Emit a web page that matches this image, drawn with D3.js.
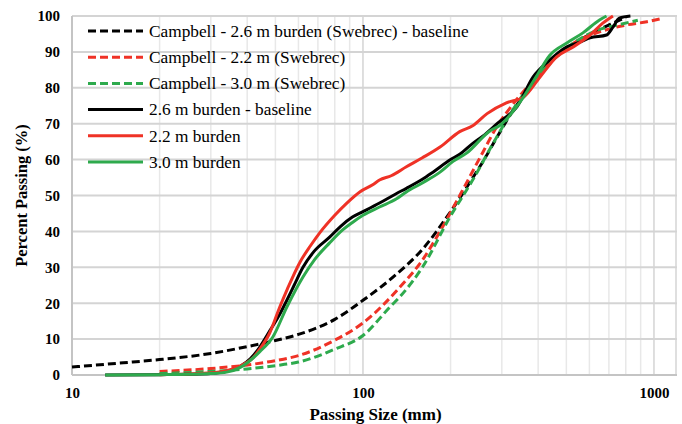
<!DOCTYPE html>
<html>
<head>
<meta charset="utf-8">
<script src="https://cdn.jsdelivr.net/npm/d3@7"></script>
<style>
  body { margin: 0; background: #fff; }
</style>
</head>
<body>
<div id="chart"></div>
<script>
// passing size (mm) / percent passing
var campbell26 = [[10,2.2],[15,3.4],[20,4.3],[30,6.0],[40,7.9],[50,9.6],[60,11.3],[80,15.5],[100,20.8],[130,28],[160,35],[200,45.5],[220,50.5],[240,55.3],[260,59.8],[290,66.5],[330,74],[370,79.5],[410,84],[460,88.5],[510,91.3],[600,94.8],[700,97.5],[800,99.6]];
var campbell22 = [[20,1.0],[30,1.8],[40,2.8],[50,4.0],[60,5.4],[80,9.7],[100,14.5],[134,24.5],[160,32],[184,40],[220,51.5],[258,62],[290,69.5],[311,73],[365,80],[406,84],[460,88.5],[530,92.5],[636,95.3],[804,97.5],[946,98.4],[1050,99.2]];
var campbell30 = [[20,0.4],[30,1.0],[40,1.7],[50,2.6],[60,3.6],[80,7.2],[100,11],[124,19],[134,21.8],[160,30],[199,44],[239,54.5],[280,64.5],[328,74],[400,83.5],[500,91],[636,96],[750,97.5],[880,98.8]];
var burden26 = [[13,0],[20,0.1],[25,0.2],[30,0.4],[34,1],[38,2.5],[41,4.5],[44.2,7.8],[48,12.5],[51.8,17],[54.8,20.9],[58,25],[62.2,30],[68,34.5],[76.8,38.4],[84,41.5],[92,44],[100,45.5],[114,47.9],[130,50.5],[141,52],[160,54.5],[174,56.5],[200,60],[215,61.5],[239,64.6],[258,66.5],[291,70.2],[338,74.7],[384,83],[438,87.7],[502,91.4],[560,92.8],[603,93.9],[687,94.7],[723,96.9],[760,99.4],[830,100]];
var burden22 = [[20,0.1],[25,0.3],[30,0.6],[34,1.2],[37.8,2.5],[41.9,4.8],[44,7],[47.8,11.7],[51.8,19],[55,24],[60.8,31.5],[66,36],[71,39.6],[80,44.5],[88,47.9],[97.5,51],[108,53],[114,54.3],[125,55.5],[141,58],[160,60.5],[184,63.5],[215,67.8],[239,69.5],[267,72.8],[311,75.8],[356,77.4],[406,83],[463,88.6],[528,91.4],[603,94.7],[667,98],[723,100]];
var burden30 = [[13,0],[20,0.1],[25,0.2],[30,0.4],[34,0.8],[38,2.2],[44.2,6.5],[49,10.6],[54.8,19],[62.2,27.3],[68,32],[76.8,36.8],[84,40],[92,42.5],[100,44.5],[114,46.8],[130,49],[141,51],[160,53.5],[184,56.5],[204,59.5],[227,61.8],[273,68],[295,69.5],[356,77.4],[400,84],[438,89],[502,92.5],[570,95.3],[650,98.9],[687,100]];

var seriesNames = ["Campbell - 2.6 m burden (Swebrec) - baseline", "Campbell - 2.2 m (Swebrec)", "Campbell - 3.0 m (Swebrec)",
                   "2.6 m burden - baseline", "2.2 m burden", "3.0 m burden"];
var seriesData = [campbell26, campbell22, campbell30, burden26, burden22, burden30];
var seriesColors = ["#000000", "#ef3226", "#2eaa4d", "#000000", "#ef3226", "#2eaa4d"];
var seriesDashed = [true, true, true, false, false, false];

var yTicks = [0, 10, 20, 30, 40, 50, 60, 70, 80, 90, 100];
var xTicks = [10, 100, 1000];

var width = 682, height = 424;
var margin = {left: 72, right: 5, top: 16, bottom: 49};
var serif = "'Liberation Serif'";

var svg = d3.select("#chart").append("svg")
    .attr("width", width)
    .attr("height", height);

var x = d3.scaleLog().domain([10, 1200]).range([margin.left, width - margin.right]);
var y = d3.scaleLinear().domain([0, 100]).range([height - margin.bottom, margin.top]);

// minor vertical grid
var minor = [];
[10, 100, 1000].forEach(function(d) {
    for (var k = 1; k < 10; k++) {
        var v = d * k;
        if (v > 10 && v < 1200) minor.push(v);
    }
});
svg.append("g")
    .selectAll("line")
    .data(minor)
    .enter().append("line")
    .attr("x1", function(d) { return x(d); })
    .attr("x2", function(d) { return x(d); })
    .attr("y1", y(0))
    .attr("y2", y(100))
    .attr("stroke", function(d) { return (d == 100 || d == 1000) ? "#d4d4d4" : "#e8e8e8"; })
    .attr("stroke-width", 1.5);

// horizontal grid
svg.append("g")
    .selectAll("line")
    .data(yTicks)
    .enter().append("line")
    .attr("x1", x(10))
    .attr("x2", x(1200))
    .attr("y1", function(d) { return y(d); })
    .attr("y2", function(d) { return y(d); })
    .attr("stroke", "#d4d4d4")
    .attr("stroke-width", 2);

// plot frame left/right/bottom
svg.append("line").attr("x1", x(10)).attr("x2", x(10)).attr("y1", y(0)).attr("y2", y(100))
    .attr("stroke", "#c4c4c4").attr("stroke-width", 2);
svg.append("line").attr("x1", x(1200) - 1).attr("x2", x(1200) - 1).attr("y1", y(0)).attr("y2", y(100))
    .attr("stroke", "#d4d4d4").attr("stroke-width", 1.5);
svg.append("line").attr("x1", x(10)).attr("x2", x(1200)).attr("y1", y(0)).attr("y2", y(0))
    .attr("stroke", "#c4c4c4").attr("stroke-width", 2);

// axes (labels only)
var yAxis = d3.axisLeft(y).tickValues(yTicks).tickSize(0).tickPadding(12);
svg.append("g")
    .attr("transform", "translate(" + margin.left + ",0)")
    .call(yAxis)
    .call(function(g) { g.select(".domain").remove(); })
    .selectAll("text")
    .style("font-family", serif)
    .style("font-size", "15px")
    .style("font-weight", "bold")
    .attr("fill", "#000");

var xAxis = d3.axisBottom(x).tickValues(xTicks).tickFormat(d3.format("d")).tickSize(0).tickPadding(12);
svg.append("g")
    .attr("transform", "translate(0," + y(0) + ")")
    .call(xAxis)
    .call(function(g) { g.select(".domain").remove(); })
    .selectAll("text")
    .style("font-family", serif)
    .style("font-size", "15px")
    .style("font-weight", "bold")
    .attr("fill", "#000");

// series
var line = d3.line()
    .x(function(d) { return x(d[0]); })
    .y(function(d) { return y(d[1]); })
    .curve(d3.curveMonotoneX);

var order = [0, 1, 2, 3, 4, 5];
svg.append("g")
    .selectAll("path")
    .data(order)
    .enter().append("path")
    .attr("d", function(i) { return line(seriesData[i]); })
    .attr("fill", "none")
    .attr("stroke", function(i) { return seriesColors[i]; })
    .attr("stroke-width", 3)
    .attr("stroke-dasharray", function(i) { return seriesDashed[i] ? "8,4" : null; });

// legend
var legend = svg.append("g")
    .selectAll("g")
    .data(seriesNames)
    .enter().append("g")
    .attr("transform", function(d, i) { return "translate(88," + (31 + i * 26.2) + ")"; });

legend.append("line")
    .attr("x1", 0)
    .attr("x2", 55)
    .attr("stroke", function(d, i) { return seriesColors[i]; })
    .attr("stroke-width", 3)
    .attr("stroke-dasharray", function(d, i) { return seriesDashed[i] ? "8,4" : null; });

legend.append("text")
    .attr("x", 61)
    .attr("dy", "0.33em")
    .style("font-family", serif)
    .style("font-size", "17.3px")
    .text(function(d) { return d; });

// axis titles
svg.append("text")
    .attr("x", (x(10) + x(1200)) / 2 + 1)
    .attr("y", 420)
    .attr("text-anchor", "middle")
    .style("font-family", serif)
    .style("font-size", "17px")
    .style("font-weight", "bold")
    .text("Passing Size (mm)");

svg.append("text")
    .attr("transform", "translate(27," + ((y(0) + y(100)) / 2) + ")rotate(-90)")
    .attr("text-anchor", "middle")
    .style("font-family", serif)
    .style("font-size", "16.5px")
    .style("font-weight", "bold")
    .text("Percent Passing (%)");
</script>
</body>
</html>
